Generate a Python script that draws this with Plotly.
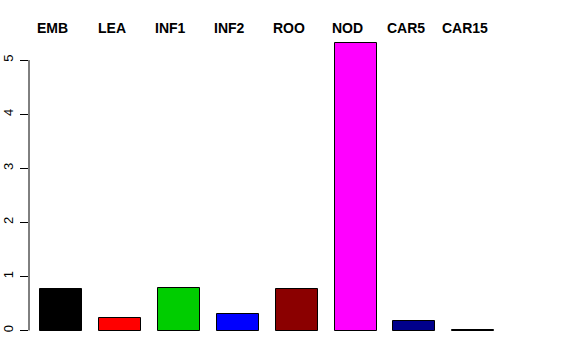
import plotly.graph_objects as go

categories = ["EMB", "LEA", "INF1", "INF2", "ROO", "NOD", "CAR5", "CAR15"]
values = [0.76, 0.24, 0.79, 0.31, 0.76, 5.31, 0.18, 0.01]
colors = ["#000000", "#FF0000", "#00CD00", "#0000FF", "#8B0000", "#FF00FF", "#00008B", "#A0A0A0"]
y_ticks = [0, 1, 2, 3, 4, 5]

idx = list(range(len(categories)))

fig = go.Figure()
fig.add_trace(go.Bar(
    x=idx, y=values, width=0.712,
    marker=dict(color=colors, line=dict(color="#000000", width=1)),
    showlegend=False, hoverinfo="skip",
))

for i, c in zip(idx, categories):
    fig.add_annotation(x=i, y=1.0, xref="x", yref="paper", yanchor="bottom",
                       yshift=-6,
                       text="<b>%s</b>" % c, showarrow=False, xanchor="center", xshift=-8,
                       font=dict(family="Liberation Sans", size=14, color="#000000"))

fig.add_shape(type="line", xref="paper", yref="y", x0=0, x1=0, y0=y_ticks[0], y1=y_ticks[-1],
              line=dict(color="#000000", width=1))

fig.update_layout(
    width=576, height=360,
    margin=dict(l=29, r=45.5, t=32, b=17.5),
    paper_bgcolor="white", plot_bgcolor="white",
    bargap=0,
    xaxis=dict(range=[-0.54, 7.96], showticklabels=False, showgrid=False, zeroline=False,
               showline=False, ticks="", automargin=False),
    yaxis=dict(range=[-0.212, 5.52], tickvals=y_ticks, ticktext=[str(v) for v in y_ticks],
               ticks="outside", ticklen=8, tickcolor="#000000", tickwidth=1,
               tickangle=-90, showgrid=False, zeroline=False, showline=False,
               ticklabelstandoff=2, automargin=False,
               tickfont=dict(family="Liberation Sans", size=13, color="#000000")),
)

fig.write_html("out.html")
